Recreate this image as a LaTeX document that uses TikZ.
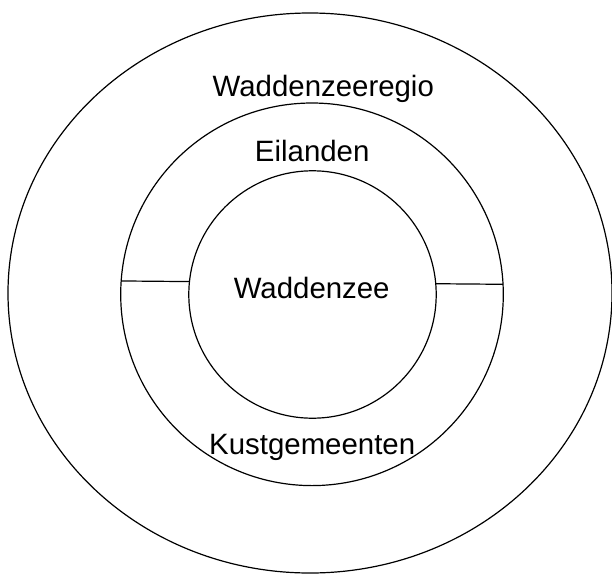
\documentclass[tikz,border=0pt]{standalone}
\usepackage{fontspec}
\usetikzlibrary{shapes.geometric}
\setmainfont{Liberation Sans}
\begin{document}
\begin{tikzpicture}[x=1pt,y=-1pt,
  ring/.style={draw=black,line width=1.2pt,circle,inner sep=0pt,outer sep=0pt},
  lbl/.style={anchor=base,inner sep=0pt,font=\fontsize{29.4}{35}\selectfont},
  divider/.style={draw=black,line width=1.2pt}]
\useasboundingbox (0,0) rectangle (612,573);
\clip (0,0) rectangle (612,573);
\fill[white] (0,0) rectangle (612,573);
\node[draw=black,line width=1.2pt,ellipse,inner sep=0pt,outer sep=0pt,minimum width=604pt,minimum height=560pt] (outer) at (310,293) {};
\node[ring,minimum size=382.6pt] (mid) at (312,294.3) {};
\node[ring,minimum size=247.4pt] (inner) at (312.5,294.5) {};
\draw[divider] (mid.176.52) -- (inner.174.62);
\draw[divider] (inner.5.38) -- (mid.3.48);
\node[lbl] (t1) at (323.3,96) {Waddenzeeregio};
\node[lbl] (t2) at (312.2,161.7) {Eilanden};
\node[lbl] (t3) at (311.7,298.3) {Waddenzee};
\node[lbl] (t4) at (312.2,454.3) {Kustgemeenten};
\end{tikzpicture}
\end{document}
